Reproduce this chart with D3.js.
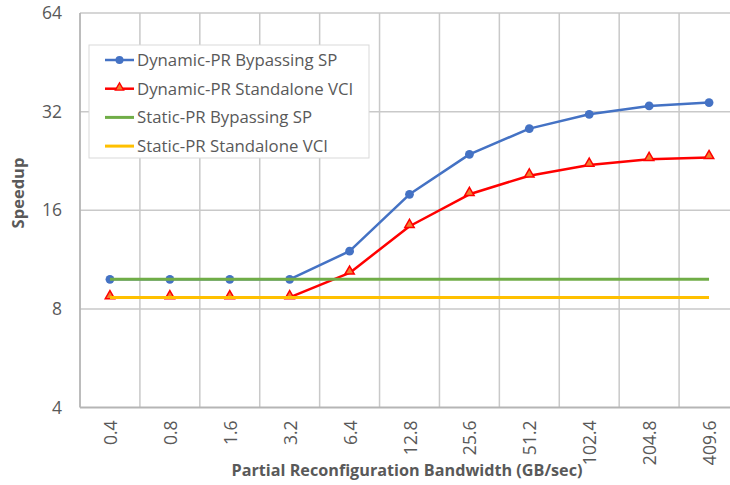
<!DOCTYPE html>
<html>
<head>
<meta charset="utf-8">
<script src="https://cdn.jsdelivr.net/npm/d3@7"></script>
<style>
  html, body { margin: 0; padding: 0; background: #fff; }
  svg { display: block; font-family: "Open Sans", "Noto Sans", sans-serif; }
</style>
</head>
<body>
<svg id="chart" width="730" height="485"></svg>
<script>
const categories = ["0.4", "0.8", "1.6", "3.2", "6.4", "12.8", "25.6", "51.2", "102.4", "204.8", "409.6"];
const dynamicBypass = [9.85, 9.85, 9.85, 9.85, 12.0, 17.9, 23.7, 28.4, 31.4, 33.3, 34.1];
const dynamicStandalone = [8.67, 8.67, 8.67, 8.67, 10.3, 14.3, 17.9, 20.4, 22.0, 22.9, 23.2];
const staticBypass = [9.85, 9.85, 9.85, 9.85, 9.85, 9.85, 9.85, 9.85, 9.85, 9.85, 9.85];
const staticStandalone = [8.67, 8.67, 8.67, 8.67, 8.67, 8.67, 8.67, 8.67, 8.67, 8.67, 8.67];
const yTicks = [4, 8, 16, 32, 64];
const seriesNames = ["Dynamic-PR Bypassing SP", "Dynamic-PR Standalone VCI", "Static-PR Bypassing SP", "Static-PR Standalone VCI"];

const series = [
  { name: seriesNames[0], values: dynamicBypass, color: "#4472C4", width: 2.5, marker: "circle" },
  { name: seriesNames[1], values: dynamicStandalone, color: "#FF0000", width: 2.5, marker: "triangle" },
  { name: seriesNames[2], values: staticBypass, color: "#70AD47", width: 3, marker: null },
  { name: seriesNames[3], values: staticStandalone, color: "#FFC000", width: 3, marker: null }
];

const svg = d3.select("#chart");
const pLeft = 80, pRight = 739, pTop = 13, pBottom = 407.5;
const textColor = "#595959";
const gridColor = "#c9c9c9";

const x = d3.scaleBand().domain(categories).range([pLeft, pRight]);
const y = d3.scaleLog().base(2).domain([4, 64]).range([pBottom, pTop]);
const cx = d => x(d) + x.bandwidth() / 2;

// horizontal gridlines
svg.append("g").selectAll("line").data(yTicks.slice(1)).join("line")
  .attr("x1", pLeft).attr("x2", pRight)
  .attr("y1", d => y(d)).attr("y2", d => y(d))
  .attr("stroke", gridColor).attr("stroke-width", 1.5);

// vertical gridlines at band boundaries
const bounds = categories.slice(1).map(c => x(c)).concat([pRight]);
svg.append("g").selectAll("line").data(bounds).join("line")
  .attr("x1", d => d).attr("x2", d => d)
  .attr("y1", pTop).attr("y2", pBottom)
  .attr("stroke", gridColor).attr("stroke-width", 1.5);

// axes lines
svg.append("line").attr("x1", pLeft).attr("x2", pLeft).attr("y1", pTop).attr("y2", pBottom)
  .attr("stroke", "#b5b5b5").attr("stroke-width", 1.8);
svg.append("line").attr("x1", pLeft).attr("x2", pRight).attr("y1", pBottom).attr("y2", pBottom)
  .attr("stroke", "#b5b5b5").attr("stroke-width", 1.8);

// y tick labels
const yAxis = d3.axisLeft(y).tickValues(yTicks).tickFormat(d3.format("d")).tickSize(0).tickPadding(18);
const yg = svg.append("g").attr("transform", `translate(${pLeft},0)`).call(yAxis);
yg.select(".domain").remove();
yg.selectAll("text").attr("fill", textColor).attr("font-size", 17.5)
  .attr("font-family", "'Open Sans', sans-serif");

// x tick labels (rotated)
const xAxis = d3.axisBottom(x).tickSize(0).tickPadding(0);
const xg = svg.append("g").attr("transform", `translate(0,${pBottom})`).call(xAxis);
xg.select(".domain").remove();
xg.selectAll("text")
  .attr("fill", textColor).attr("font-size", 17.5)
  .attr("font-family", "'Open Sans', sans-serif")
  .attr("text-anchor", "end")
  .attr("dy", null).attr("y", 0)
  .attr("transform", "translate(7,13) rotate(-90)");

// axis titles
svg.append("text").attr("x", 407).attr("y", 476)
  .attr("text-anchor", "middle").attr("font-weight", "bold").attr("font-size", 16.2)
  .attr("fill", textColor).text("Partial Reconfiguration Bandwidth (GB/sec)");
svg.append("text").attr("transform", "translate(24,193) rotate(-90)")
  .attr("text-anchor", "middle").attr("font-weight", "bold").attr("font-size", 16.5)
  .attr("fill", textColor).text("Speedup");

// lines and markers: dynamic series first, static lines drawn on top
const line = d3.line().x((d, i) => cx(categories[i])).y(d => y(d));
const tri = d3.symbol().type(d3.symbolTriangle).size(38);

svg.append("path").datum(dynamicBypass).attr("d", line)
  .attr("fill", "none").attr("stroke", series[0].color).attr("stroke-width", series[0].width)
  .attr("stroke-linejoin", "round");
svg.append("g").selectAll("circle").data(dynamicBypass).join("circle")
  .attr("cx", (d, i) => cx(categories[i])).attr("cy", d => y(d)).attr("r", 4.4)
  .attr("fill", series[0].color);

svg.append("path").datum(dynamicStandalone).attr("d", line)
  .attr("fill", "none").attr("stroke", series[1].color).attr("stroke-width", series[1].width)
  .attr("stroke-linejoin", "round");
svg.append("g").selectAll("path").data(dynamicStandalone).join("path")
  .attr("d", tri)
  .attr("transform", (d, i) => `translate(${cx(categories[i])},${y(d) - 1.5})`)
  .attr("fill", "#F08030").attr("stroke", "#FF0000").attr("stroke-width", 1.5);

[series[2], series[3]].forEach(s => {
  svg.append("path").datum(s.values).attr("d", line)
    .attr("fill", "none").attr("stroke", s.color).attr("stroke-width", s.width);
});

// legend
const lg = svg.append("g");
lg.append("rect").attr("x", 89).attr("y", 45).attr("width", 280).attr("height", 113)
  .attr("fill", "#fff").attr("stroke", "#d9d9d9").attr("stroke-width", 1);
series.forEach((s, i) => {
  const yy = 60 + i * 28.7;
  lg.append("line").attr("x1", 105).attr("x2", 134).attr("y1", yy).attr("y2", yy)
    .attr("stroke", s.color).attr("stroke-width", s.width);
  if (s.marker === "circle") {
    lg.append("circle").attr("cx", 119.5).attr("cy", yy).attr("r", 4).attr("fill", s.color);
  } else if (s.marker === "triangle") {
    lg.append("path").attr("d", d3.symbol().type(d3.symbolTriangle).size(30))
      .attr("transform", `translate(119.5,${yy - 1})`)
      .attr("fill", "#F08030").attr("stroke", "#FF0000").attr("stroke-width", 1.3);
  }
  lg.append("text").attr("x", 137).attr("y", yy).attr("dy", "0.35em")
    .attr("font-size", 16.8).attr("fill", textColor).text(s.name);
});
</script>
</body>
</html>
